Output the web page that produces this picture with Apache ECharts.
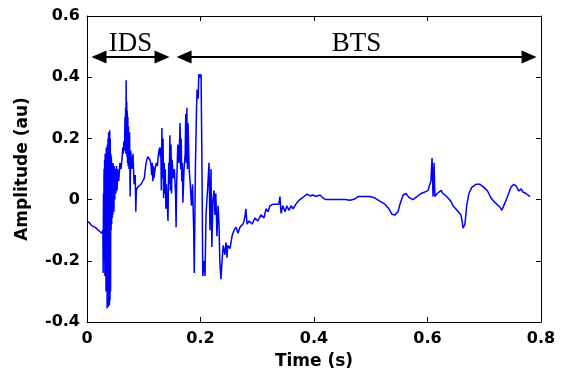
<!DOCTYPE html>
<html><head><meta charset="utf-8">
<script src="https://cdn.jsdelivr.net/npm/echarts@6/dist/echarts.min.js"></script>
<style>html,body{margin:0;padding:0;background:#fff}#c{width:561px;height:378px}</style>
</head><body><div id="c"></div>
<script>
const timeS = [0,0.004,0.008,0.011,0.014,0.017,0.020,0.023,0.026,0.028,0.0285,0.029,0.0295,0.030,0.0305,0.031,0.0315,0.032,0.0325,0.033,0.0335,0.034,0.0345,0.035,0.0355,0.036,0.0365,0.037,0.0375,0.038,0.0385,0.039,0.0395,0.040,0.0405,0.041,0.0415,0.042,0.0425,0.043,0.0435,0.044,0.0445,0.045,0.0455,0.046,0.0465,0.047,0.0475,0.048,0.049,0.050,0.051,0.052,0.053,0.054,0.056,0.058,0.060,0.062,0.063,0.064,0.065,0.066,0.067,0.0675,0.068,0.0685,0.069,0.0695,0.070,0.0705,0.071,0.0715,0.072,0.0725,0.073,0.074,0.075,0.076,0.077,0.079,0.081,0.083,0.085,0.086,0.087,0.089,0.092,0.095,0.098,0.101,0.104,0.107,0.109,0.111,0.113,0.114,0.115,0.116,0.117,0.118,0.120,0.122,0.124,0.126,0.128,0.129,0.130,0.131,0.132,0.133,0.134,0.135,0.136,0.137,0.138,0.139,0.140,0.1427,0.144,0.145,0.146,0.147,0.148,0.149,0.150,0.152,0.154,0.156,0.157,0.158,0.160,0.162,0.164,0.165,0.166,0.167,0.168,0.169,0.171,0.173,0.174,0.175,0.176,0.177,0.178,0.180,0.182,0.184,0.186,0.188,0.189,0.191,0.193,0.194,0.196,0.197,0.199,0.201,0.2026,0.204,0.206,0.208,0.2097,0.213,0.215,0.2167,0.2185,0.220,0.222,0.224,0.2255,0.227,0.229,0.231,0.2326,0.234,0.236,0.238,0.240,0.243,0.245,0.2467,0.248,0.252,0.2555,0.259,0.2626,0.266,0.2696,0.275,0.278,0.280,0.282,0.2855,0.291,0.296,0.301,0.3066,0.312,0.3154,0.319,0.3225,0.328,0.333,0.338,0.340,0.342,0.345,0.349,0.352,0.356,0.3595,0.363,0.3665,0.370,0.375,0.3824,0.3877,0.393,0.398,0.4035,0.4106,0.416,0.421,0.428,0.437,0.446,0.4546,0.4634,0.472,0.4775,0.490,0.4987,0.5075,0.516,0.525,0.532,0.5374,0.5427,0.548,0.5515,0.557,0.562,0.567,0.574,0.5815,0.5885,0.5956,0.601,0.604,0.606,0.608,0.6097,0.6115,0.613,0.617,0.620,0.624,0.627,0.631,0.636,0.641,0.645,0.6485,0.652,0.6555,0.659,0.661,0.6626,0.666,0.669,0.673,0.678,0.6855,0.6925,0.6996,0.705,0.708,0.712,0.7154,0.719,0.7225,0.728,0.731,0.7366,0.742,0.747,0.752,0.756,0.7595,0.761,0.765,0.768,0.7736,0.7806];
const amplitude = [-0.07,-0.075,-0.085,-0.08,-0.09,-0.095,-0.10,-0.105,-0.11,-0.10,-0.24,0.02,-0.20,0.10,-0.15,0.13,-0.25,0.15,-0.20,0.12,-0.30,0.17,-0.28,0.10,-0.355,0.18,-0.30,0.20,-0.35,0.22,-0.34,0.18,-0.345,0.227,-0.33,0.20,-0.30,0.15,-0.10,0.14,-0.08,0.12,-0.06,0.10,-0.05,0.12,-0.02,0.09,-0.04,0.11,0.0,0.10,0.02,0.11,0.03,0.10,0.06,0.12,0.10,0.14,0.17,0.15,0.19,0.16,0.27,0.17,0.30,0.15,0.39,0.16,0.32,0.14,0.29,0.12,0.27,0.11,0.24,0.10,0.22,0.01,0.16,0.10,0.15,0.05,0.08,-0.04,0.03,0.04,0.04,0.05,0.06,0.07,0.12,0.14,0.145,0.13,0.11,0.08,0.12,0.06,0.11,0.07,0.10,0.12,0.11,0.15,0.17,0.14,0.17,0.03,0.234,0.07,0.20,0.005,0.12,0.02,0.10,-0.03,0.05,-0.07,0.12,0.05,0.21,0.03,0.18,0.02,0.13,0.07,0.10,0.02,-0.09,0.05,0.18,0.12,0.25,0.10,0.20,0.06,0.12,-0.01,0.10,0.15,0.28,0.12,0.30,0.10,0.25,0.10,0.05,-0.02,0.05,-0.10,-0.24,0.10,0.30,0.36,0.33,0.41,0.40,0.41,0.10,-0.25,-0.20,-0.25,-0.05,0.05,0.12,-0.10,0.10,-0.155,0.00,0.03,-0.05,0.02,-0.12,-0.02,-0.08,-0.20,-0.26,-0.20,-0.15,-0.18,-0.14,-0.19,-0.15,-0.16,-0.12,-0.10,-0.09,-0.11,-0.09,-0.08,-0.06,-0.03,-0.08,-0.07,-0.08,-0.06,-0.07,-0.05,-0.06,-0.03,-0.04,-0.02,-0.015,-0.015,-0.015,0.01,-0.045,-0.02,-0.04,-0.02,-0.035,-0.02,-0.03,-0.035,-0.01,0.0,0.01,0.018,0.012,0.015,0.01,0.015,0.005,0.0,0.0,0.0,0.0,0.0,-0.002,0.002,0.01,0.01,0.01,0.005,-0.005,-0.015,-0.03,-0.048,-0.05,-0.04,-0.015,0.015,0.02,0.008,0.0,0.01,0.02,0.025,0.03,0.05,0.06,0.136,0.01,0.12,0.01,0.02,0.025,0.03,0.02,0.015,0.005,-0.005,-0.02,-0.015,-0.035,-0.03,-0.05,-0.07,-0.093,-0.08,-0.02,0.02,0.04,0.05,0.05,0.04,0.03,0.02,0.005,0.0,-0.01,-0.015,-0.025,-0.035,-0.01,0.015,0.04,0.05,0.045,0.04,0.028,0.035,0.025,0.02,0.01];
const xTicks = [0, 0.2, 0.4, 0.6, 0.8];
const yTicks = [-0.4, -0.2, 0, 0.2, 0.4, 0.6];
const phaseNames = ['IDS', 'BTS'];
const phaseStart = [0.0211, 0.171];
const phaseEnd = [0.1322, 0.779];
const arrowLevel = 0.466;

const chart = echarts.init(document.getElementById('c'));
const lab = {fontFamily:'DejaVu Sans, sans-serif', fontWeight:'bold', fontSize:16, color:'#000'};
const nameLab = {fontFamily:'DejaVu Sans, sans-serif', fontWeight:'bold', fontSize:17, color:'#000'};
const axLine = {show:true, onZero:false, lineStyle:{color:'#000', width:1}};
const tick = {show:true, inside:true, length:5, lineStyle:{color:'#000'}};
chart.setOption({
  animation:false,
  grid:{left:87, right:20, top:16, bottom:56, show:false},
  xAxis:[{type:'value', min:xTicks[0], max:xTicks[xTicks.length-1], interval:0.2, axisLine:axLine, axisTick:tick, splitLine:{show:false},
    axisLabel:Object.assign({margin:9, formatter:v=>String(+v.toFixed(1))}, lab),
    name:'Time (s)', nameLocation:'middle', nameGap:31, nameTextStyle:nameLab},
    {type:'value', position:'top', min:0, max:0.8, interval:0.2, axisLine:axLine, axisTick:tick, axisLabel:{show:false}, splitLine:{show:false}}],
  yAxis:[{type:'value', min:yTicks[0], max:yTicks[yTicks.length-1], interval:0.2, axisLine:axLine, axisTick:tick, splitLine:{show:false},
    axisLabel:Object.assign({margin:7, formatter:v=>String(+v.toFixed(1))}, lab),
    name:'Amplitude (au)', nameLocation:'middle', nameGap:56, nameTextStyle:nameLab},
    {type:'value', position:'right', min:-0.4, max:0.6, interval:0.2, axisLine:axLine, axisTick:tick, axisLabel:{show:false}, splitLine:{show:false}}],
  series:[{type:'line', data:timeS.map((t,i)=>[t, amplitude[i]]), showSymbol:false, symbol:'none',
    lineStyle:{color:'#0000ff', width:1.5}, clip:false,
    markLine:{silent:true, symbol:['triangle','triangle'], symbolSize:[13,15],
      lineStyle:{color:'#000', width:2, type:'solid'},
      label:{show:true, position:'insideMiddleTop', distance:0, fontFamily:'Liberation Serif, Times New Roman, serif', fontSize:27, color:'#000', formatter:p=>p.name},
      data:phaseNames.map((n,i)=>[{name:n, coord:[phaseStart[i], arrowLevel]}, {coord:[phaseEnd[i], arrowLevel]}])
    }}]
});
</script></body></html>
